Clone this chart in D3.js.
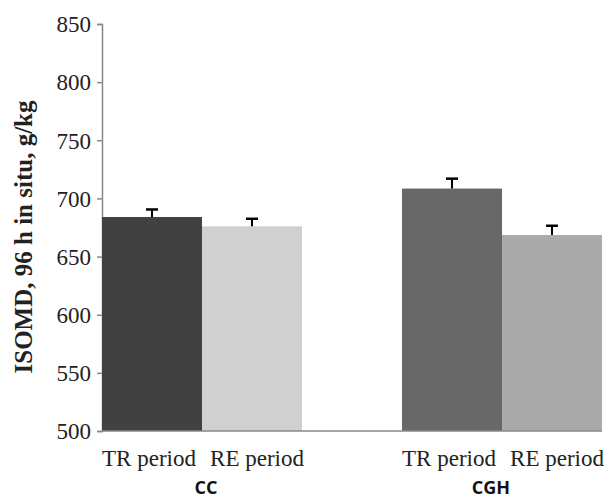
<!DOCTYPE html>
<html><head><meta charset="utf-8">
<script src="https://cdn.jsdelivr.net/npm/d3@7"></script>
<style>body{margin:0;background:#fff}</style>
</head><body>
<svg id="c" width="610" height="500"></svg>
<script>
const slots = ["CC-TR","CC-RE","gap","CGH-TR","CGH-RE"];
const bars = ["CC-TR","CC-RE","CGH-TR","CGH-RE"];
const barLabels = ["TR period","RE period","TR period","RE period"];
const values = [684, 676, 708.5, 668.5];
const errors = [6.5, 6.5, 8.5, 8];
const colors = ["#414141","#d0d0d0","#686868","#aaaaaa"];
const groups = ["CC","CGH"];
const groupPos = [206, 491];
const yTicks = [500,550,600,650,700,750,800,850];

const serif = "Liberation Serif, Times New Roman, serif";
const svg = d3.select("#c");
const x = d3.scaleBand().domain(slots).range([102,602]).padding(0);
const y = d3.scaleLinear().domain([500,850]).range([431,24]);

const yAxis = d3.axisLeft(y).tickValues(yTicks).tickSize(5).tickPadding(6).tickFormat(d3.format("d"));
const ga = svg.append("g").attr("transform","translate(102,0)").call(yAxis);
ga.select(".domain").attr("stroke","#888").attr("stroke-width",1.5);
ga.selectAll(".tick line").attr("stroke","#888").attr("stroke-width",1.5);
ga.selectAll("text").attr("font-family",serif).attr("font-size",23).attr("fill","#222").attr("dy","0.34em");

svg.selectAll("rect.bar").data(bars).enter().append("rect")
  .attr("x", d=>x(d)).attr("width", x.bandwidth())
  .attr("y", (d,i)=>y(values[i])).attr("height",(d,i)=>y(500)-y(values[i]))
  .attr("fill",(d,i)=>colors[i]);

// baseline
svg.append("line").attr("x1",102).attr("x2",602).attr("y1",y(500)).attr("y2",y(500)).attr("stroke","#888").attr("stroke-width",1.5);

// error bars
const eb = svg.selectAll("g.eb").data(bars).enter().append("g");
eb.append("line").attr("x1",d=>x(d)+x.bandwidth()/2).attr("x2",d=>x(d)+x.bandwidth()/2)
  .attr("y1",(d,i)=>y(values[i])).attr("y2",(d,i)=>y(values[i]+errors[i]))
  .attr("stroke","#000").attr("stroke-width",2);
eb.append("line").attr("x1",d=>x(d)+x.bandwidth()/2-6).attr("x2",d=>x(d)+x.bandwidth()/2+6)
  .attr("y1",(d,i)=>y(values[i]+errors[i])).attr("y2",(d,i)=>y(values[i]+errors[i]))
  .attr("stroke","#000").attr("stroke-width",2.5);

// bar labels
svg.selectAll("text.bl").data(bars).enter().append("text")
  .attr("x",(d,i)=>x(d)+x.bandwidth()/2 + (i%2?5:-3)).attr("y",466)
  .attr("text-anchor","middle").attr("font-family",serif)
  .attr("font-size",23).attr("fill","#222").text((d,i)=>barLabels[i]);

// group labels
svg.selectAll("text.gl").data(groups).enter().append("text")
  .attr("x",(d,i)=>groupPos[i]).attr("y",494).attr("text-anchor","middle")
  .attr("font-family","Open Sans, sans-serif").attr("font-weight",700).attr("font-size",18).attr("fill","#111")
  .text(d=>d);

// y title
svg.append("text").attr("transform","translate(32,237) rotate(-90)").attr("text-anchor","middle")
  .attr("font-family",serif).attr("font-weight",700).attr("font-size",25).attr("fill","#222")
  .text("ISOMD, 96 h in situ, g/kg");
</script>
</body></html>
